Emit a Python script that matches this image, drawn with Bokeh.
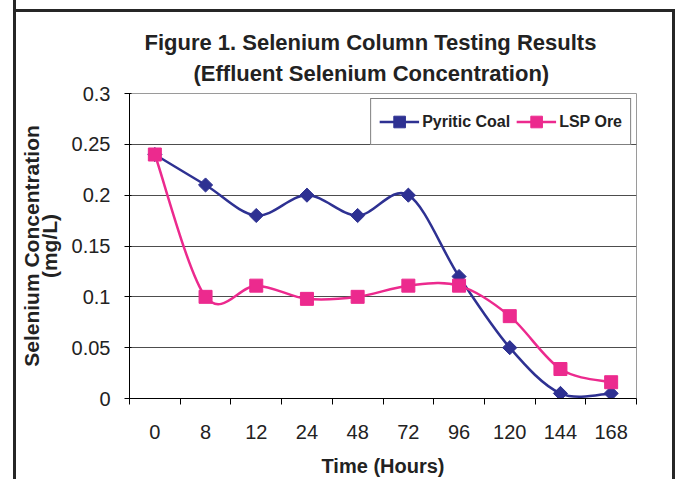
import numpy as np
from bokeh.plotting import figure
from bokeh.models import (FixedTicker, LinearAxis, Range1d, Legend, LegendItem, Title)
from bokeh.embed import file_html
from bokeh.resources import INLINE

# ---- data ----
hours = ["0", "8", "12", "24", "48", "72", "96", "120", "144", "168"]
pyritic_coal = [0.24, 0.21, 0.18, 0.20, 0.18, 0.20, 0.12, 0.05, 0.005, 0.005]
lsp_ore = [0.24, 0.10, 0.111, 0.098, 0.10, 0.111, 0.111, 0.081, 0.029, 0.016]
y_ticks = [0, 0.05, 0.1, 0.15, 0.2, 0.25, 0.3]
y_tick_labels = ["0", "0.05", "0.1", "0.15", "0.2", "0.25", "0.3"]

NAVY = "#2E3192"
PINK = "#EC2A8E"
FONT = "Liberation Sans"
TXT = "#222222"

xc = [i + 0.5 for i in range(len(hours))]


def smooth_segments(xs, ys):
    """Cubic Bezier segments (Catmull-Rom style, as in Excel smoothed lines)."""
    n = len(xs)
    seg = {k: [] for k in ("x0", "y0", "x1", "y1", "cx0", "cy0", "cx1", "cy1")}
    for i in range(n - 1):
        pm = (xs[i - 1], ys[i - 1]) if i > 0 else (xs[i], ys[i])
        p0 = (xs[i], ys[i])
        p1 = (xs[i + 1], ys[i + 1])
        pp = (xs[i + 2], ys[i + 2]) if i + 2 < n else (xs[i + 1], ys[i + 1])
        seg["x0"].append(p0[0]); seg["y0"].append(p0[1])
        seg["x1"].append(p1[0]); seg["y1"].append(p1[1])
        seg["cx0"].append(p0[0] + (p1[0] - pm[0]) / 6)
        seg["cy0"].append(p0[1] + (p1[1] - pm[1]) / 6)
        seg["cx1"].append(p1[0] - (pp[0] - p0[0]) / 6)
        seg["cy1"].append(p1[1] - (pp[1] - p0[1]) / 6)
    return seg


p = figure(width=675, height=479, title=None,
           x_range=Range1d(0, len(hours)), y_range=Range1d(0, 0.3),
           output_backend="svg", toolbar_location=None,
           min_border_left=129, min_border_right=39,
           min_border_top=93, min_border_bottom=79,
           border_fill_color=None, background_fill_color="white",
           outline_line_color="#9a9a9a", outline_line_width=1)

p.styles = {"box-shadow": ("inset 13px 0 0 0 #ffffff, inset 16px 0 0 0 #262626, "
                           "inset 0 9px 0 0 #ffffff, inset 0 12px 0 0 #262626, "
                           "inset -3px 0 0 0 #262626")}

# grid
p.xgrid.visible = False
p.ygrid.ticker = FixedTicker(ticks=y_ticks[1:-1])
p.ygrid.grid_line_color = "#4d4d4d"
p.ygrid.grid_line_width = 1

# x axis
xa = p.xaxis[0]
xa.ticker = FixedTicker(ticks=xc, minor_ticks=list(range(len(hours) + 1)))
xa.major_label_overrides = {x: h for x, h in zip(xc, hours)}
xa.major_tick_line_color = None
xa.major_tick_out = 0
xa.major_tick_in = 0
xa.minor_tick_out = 6
xa.minor_tick_in = 0
xa.minor_tick_line_color = "black"
xa.axis_line_color = "black"
xa.major_label_standoff = 20
xa.major_label_text_font = FONT
xa.major_label_text_font_size = "20px"
xa.major_label_text_color = TXT
xa.axis_label = "Time (Hours)"
xa.axis_label_text_font = FONT
xa.axis_label_text_font_size = "20px"
xa.axis_label_text_font_style = "bold"
xa.axis_label_text_color = TXT
xa.axis_label_standoff = 13

# y axis
ya = p.yaxis[0]
ya.ticker = FixedTicker(ticks=y_ticks)
ya.major_label_overrides = {t: s for t, s in zip(y_ticks, y_tick_labels)}
ya.minor_tick_line_color = None
ya.major_tick_out = 5
ya.major_tick_in = 2
ya.major_tick_line_color = "black"
ya.axis_line_color = "black"
ya.major_label_standoff = 14
ya.major_label_text_font = FONT
ya.major_label_text_font_size = "20px"
ya.major_label_text_color = TXT
ya.axis_label = "(mg/L)"
ya.axis_label_text_font = FONT
ya.axis_label_text_font_size = "21px"
ya.axis_label_text_font_style = "bold"
ya.axis_label_text_color = TXT
ya.axis_label_standoff = 8

ya2 = LinearAxis(axis_label="Selenium Concentration", ticker=FixedTicker(ticks=[]),
                 axis_line_color=None, major_tick_line_color=None,
                 minor_tick_line_color=None, major_label_text_font_size="0px",
                 major_tick_out=0, major_tick_in=0, minor_tick_out=0, minor_tick_in=0,
                 major_label_standoff=0, axis_label_standoff=-8,
                 axis_label_text_font=FONT, axis_label_text_font_size="21px",
                 axis_label_text_font_style="bold", axis_label_text_color=TXT)
p.add_layout(ya2, "left")

# series: smoothed curves
for vals, color in [(pyritic_coal, NAVY), (lsp_ore, PINK)]:
    seg = smooth_segments(xc, vals)
    p.bezier(source=seg, x0="x0", y0="y0", x1="x1", y1="y1",
             cx0="cx0", cy0="cy0", cx1="cx1", cy1="cy1",
             line_color=color, line_width=2.5, line_cap="round")

# legend-only line renderers (kept outside the visible y range)
r_pc_line = p.line(x=[0, 1], y=[-1, -1], line_color=NAVY, line_width=2.5)
r_lsp_line = p.line(x=[0, 1], y=[-1, -1], line_color=PINK, line_width=2.5)

r_pc = p.scatter(x=xc, y=pyritic_coal, marker="square", angle=np.pi / 4, size=10,
                 fill_color=NAVY, line_color=NAVY)
r_lsp = p.scatter(x=xc, y=lsp_ore, marker="square", size=13,
                  fill_color=PINK, line_color=PINK)

legend = Legend(items=[LegendItem(label="Pyritic Coal", renderers=[r_pc_line, r_pc]),
                       LegendItem(label="LSP Ore", renderers=[r_lsp_line, r_lsp])],
                orientation="horizontal", location="top_right", margin=5,
                padding=8, spacing=6, glyph_width=40, glyph_height=29,
                label_height=29, label_standoff=3,
                label_text_font=FONT, label_text_font_style="bold",
                label_text_font_size="16px", label_text_color=TXT,
                border_line_color="black", border_line_width=1,
                background_fill_color="white", background_fill_alpha=1)
p.add_layout(legend)

# titles (second line added first so it sits nearer the plot)
t2 = Title(text="(Effluent Selenium Concentration)", align="left", offset=64,
           standoff=16, text_font=FONT, text_font_size="22px",
           text_font_style="bold", text_color=TXT)
t1 = Title(text="Figure 1. Selenium Column Testing Results", align="left", offset=15,
           standoff=-9, text_font=FONT, text_font_size="22px",
           text_font_style="bold", text_color=TXT)
p.add_layout(t2, "above")
p.add_layout(t1, "above")

open("out.html", "w").write(file_html(p, INLINE))
